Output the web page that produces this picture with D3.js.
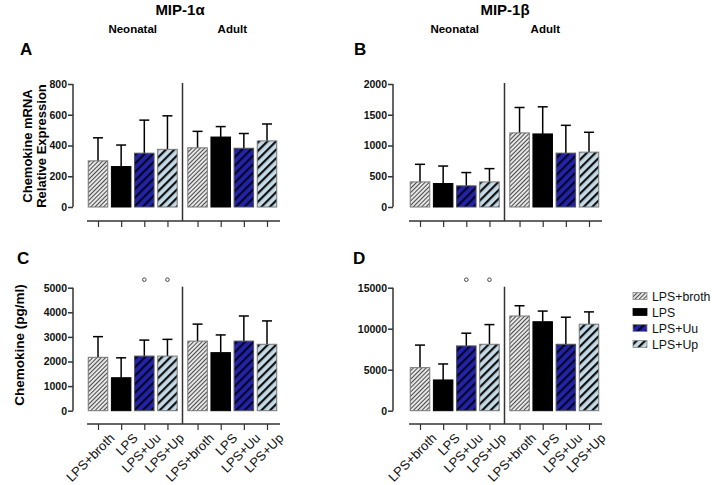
<!DOCTYPE html>
<html><head><meta charset="utf-8">
<script src="https://cdn.jsdelivr.net/npm/d3@7"></script>
<style>
body{margin:0;background:#fff;}
svg text{font-family:"Liberation Sans",Arial,sans-serif;}
</style></head>
<body><svg id="c" width="712" height="485"></svg>
<script>
const treatments = ["LPS+broth","LPS","LPS+Uu","LPS+Up"];
const groups = ["Neonatal","Adult"];
const chemokines = ["MIP-1α","MIP-1β"];
// values ordered: neonatal (4 treatments), adult (4 treatments)
const mip1aMrnaMean = [300,263,350,375, 385,455,382,430];
const mip1aMrnaSD   = [150,140,215,218, 107,68,96,110];
const mip1bMrnaMean = [408,382,344,408, 1205,1188,876,892];
const mip1bMrnaSD   = [286,284,216,216, 413,441,452,323];
const mip1aProtMean = [2170,1340,2220,2220, 2830,2360,2830,2700];
const mip1aProtSD   = [840,810,650,680, 690,720,1020,950];
const mip1bProtMean = [5250,3750,7900,8100, 11550,10850,8100,10550];
const mip1bProtSD   = [2750,1950,1550,2400, 1250,1300,3300,1500];
const mip1aMrnaTicks = [0,200,400,600,800];
const mip1bMrnaTicks = [0,500,1000,1500,2000];
const mip1aProtTicks = [0,1000,2000,3000,4000,5000];
const mip1bProtTicks = [0,5000,10000,15000];
const protSignificant = [false,false,true,true, false,false,false,false];

const svg = d3.select("#c");
const defs = svg.append("defs");
function hatch(id, bg, stroke, size, sw){
  const p = defs.append("pattern").attr("id",id).attr("patternUnits","userSpaceOnUse")
    .attr("width",size).attr("height",size).attr("patternTransform","rotate(45)");
  p.append("rect").attr("width",size).attr("height",size).attr("fill",bg);
  p.append("rect").attr("x",0).attr("y",0).attr("width",sw).attr("height",size).attr("fill",stroke);
}
hatch("pBroth","#e6e6e6","#4a4a4a",3,1);
hatch("pUu","#2323a8","#05052a",6,2.2);
hatch("pUp","#c4dae6","#111",6,2.2);
const fills = ["url(#pBroth)","#000","url(#pUu)","url(#pUp)"];
const strokes = ["#777","#000","#555","#777"];

const slots = [0,1,2,3,4.3,5.3,6.3,7.3];

function panel(o){
  const y = d3.scaleLinear().domain([0, o.ticks[o.ticks.length-1]]).range([o.y0, o.y1]);
  const x = d3.scaleLinear().domain([0,7.3]).range([o.xa, o.xb]);
  const g = svg.append("g");
  // y axis
  const ax = g.append("g").attr("transform",`translate(${o.ax},0)`)
    .call(d3.axisLeft(y).tickValues(o.ticks).tickSize(5).tickPadding(1).tickFormat(d3.format("d")));
  ax.select(".domain").attr("stroke","#333").attr("stroke-width",1.5).attr("d",`M0,${o.y1}V${o.y0}`);
  ax.selectAll(".tick line").attr("stroke","#333").attr("stroke-width",1.5);
  ax.selectAll(".tick text").attr("font-size",10.5).attr("font-weight","bold").attr("fill","#111")
    .attr("font-family","'Liberation Sans',Arial,sans-serif");
  // x axis line
  const xa = g.append("g").attr("transform",`translate(0,${o.xl})`)
    .call(d3.axisBottom(x).tickValues(slots).tickSize(6).tickFormat((d,i)=>o.labels?treatments[i%4]:""));
  xa.select(".domain").attr("stroke","#333").attr("stroke-width",1.5).attr("d",`M${o.xa-11},0H${o.xb+13}`);
  xa.selectAll(".tick line").attr("stroke","#333").attr("stroke-width",1.2);
  xa.selectAll(".tick text").attr("font-size",13).attr("fill","#111")
    .attr("font-family","'Liberation Sans',Arial,sans-serif")
    .attr("text-anchor","end").attr("transform","translate(5,3) rotate(-45)").attr("dy","0.6em");
  // divider
  const dx = (x(3)+x(4.3))/2;
  g.append("line").attr("x1",dx).attr("x2",dx).attr("y1",o.y1-1).attr("y2",o.xl).attr("stroke","#333").attr("stroke-width",1.5);
  // error bars
  const bw = 19.5;
  o.mean.forEach((m,i)=>{
    const cx = x(slots[i]);
    g.append("line").attr("x1",cx).attr("x2",cx).attr("y1",y(m)).attr("y2",y(m+o.sd[i])).attr("stroke","#000").attr("stroke-width",1.5);
    g.append("line").attr("x1",cx-5).attr("x2",cx+5).attr("y1",y(m+o.sd[i])).attr("y2",y(m+o.sd[i])).attr("stroke","#000").attr("stroke-width",1.5);
  });
  g.selectAll("rect.bar").data(o.mean).join("rect").attr("class","bar")
    .attr("x",(d,i)=>x(slots[i])-bw/2).attr("width",bw)
    .attr("y",d=>y(d)).attr("height",d=>y(0)-y(d))
    .attr("fill",(d,i)=>fills[i%4]).attr("stroke",(d,i)=>strokes[i%4]).attr("stroke-width",1);
  if(o.sig){
    o.sig.forEach((s,i)=>{ if(s) g.append("circle").attr("cx",x(slots[i])).attr("cy",o.y1-8).attr("r",1.8)
      .attr("fill","none").attr("stroke","#444").attr("stroke-width",1); });
  }
  if(o.groupLabels){
    g.append("text").attr("x",(x(0)+x(3))/2+(o.nOff||0)).attr("y",33).attr("text-anchor","middle")
      .attr("font-size",11.5).attr("font-weight","bold").text(groups[0]);
    g.append("text").attr("x",(x(4.3)+x(7.3))/2+(o.aOff||0)).attr("y",33).attr("text-anchor","middle")
      .attr("font-size",11.5).attr("font-weight","bold").text(groups[1]);
  }
  g.append("text").attr("x",o.lx).attr("y",o.ly).attr("font-size",17).attr("font-weight","bold").text(o.letter);
}

panel({letter:"A",lx:20,ly:55,ax:73,y0:207,y1:84,xa:98,xb:267,xl:221,ticks:mip1aMrnaTicks,mean:mip1aMrnaMean,sd:mip1aMrnaSD,groupLabels:true,nOff:0,aOff:0});
panel({letter:"B",lx:354,ly:55,ax:393,y0:207,y1:84,xa:420,xb:589,xl:221,ticks:mip1bMrnaTicks,mean:mip1bMrnaMean,sd:mip1bMrnaSD,groupLabels:true,nOff:0,aOff:-9});
panel({letter:"C",lx:17,ly:264,ax:73,y0:410.7,y1:287.7,xa:98,xb:267,xl:424,ticks:mip1aProtTicks,mean:mip1aProtMean,sd:mip1aProtSD,labels:true,sig:protSignificant});
panel({letter:"D",lx:353,ly:264,ax:393,y0:410.7,y1:287.7,xa:420,xb:589,xl:424,ticks:mip1bProtTicks,mean:mip1bProtMean,sd:mip1bProtSD,labels:true,sig:protSignificant});

// titles
svg.append("text").attr("x",180).attr("y",15).attr("text-anchor","middle").attr("font-size",15).attr("font-weight","bold").text(chemokines[0]);
svg.append("text").attr("x",505).attr("y",15).attr("text-anchor","middle").attr("font-size",15).attr("font-weight","bold").text(chemokines[1]);
// y titles
svg.append("text").attr("transform","translate(32,146) rotate(-90)").attr("text-anchor","middle").attr("font-size",13).attr("font-weight","bold").text("Chemokine mRNA");
svg.append("text").attr("transform","translate(46,146) rotate(-90)").attr("text-anchor","middle").attr("font-size",13).attr("font-weight","bold").text("Relative Expression");
svg.append("text").attr("transform","translate(24,345) rotate(-90)").attr("text-anchor","middle").attr("font-size",13.5).attr("font-weight","bold").text("Chemokine (pg/ml)");

// legend
const lg = svg.append("g");
treatments.forEach((t,i)=>{
  const yy = 296 + i*16;
  lg.append("rect").attr("x",633).attr("y",yy-3.5).attr("width",14).attr("height",7).attr("fill",fills[i]).attr("stroke",i===1?"#000":"#888").attr("stroke-width",0.8);
  lg.append("text").attr("x",652).attr("y",yy+4.5).attr("font-size",12.3).attr("fill","#111").text(t);
});
</script></body></html>
